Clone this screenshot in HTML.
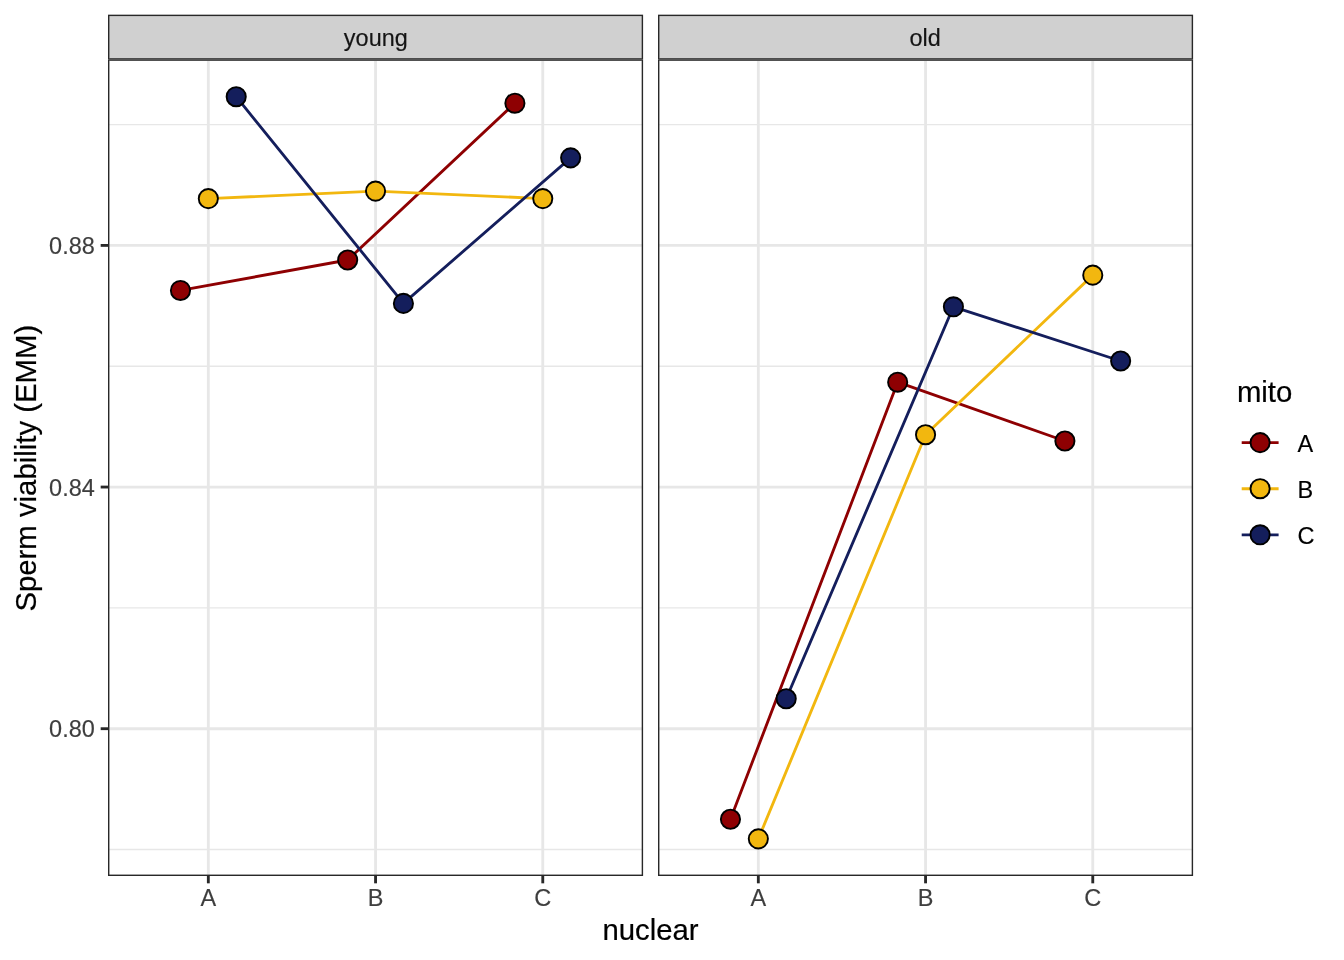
<!DOCTYPE html>
<html><head><meta charset="utf-8"><title>Sperm viability</title>
<style>
html,body{margin:0;padding:0;background:#fff;}
body{width:1344px;height:960px;overflow:hidden;}
svg{display:block;font-family:"Liberation Sans",sans-serif;}
.s{font-size:23.47px;stroke-width:0.15px;}
.t{font-size:29.33px;fill:#000;stroke:#000;stroke-width:0.2px;}
</style></head><body>
<svg width="1344" height="960" viewBox="0 0 1344 960">
<rect width="1344" height="960" fill="#fff"/>
<g>
<line x1="108.0" x2="643.1" y1="124.6" y2="124.6" stroke="#E7E7E7" stroke-width="1.42"/>
<line x1="108.0" x2="643.1" y1="366.2" y2="366.2" stroke="#E7E7E7" stroke-width="1.42"/>
<line x1="108.0" x2="643.1" y1="607.9" y2="607.9" stroke="#E7E7E7" stroke-width="1.42"/>
<line x1="108.0" x2="643.1" y1="849.5" y2="849.5" stroke="#E7E7E7" stroke-width="1.42"/>
<line x1="108.0" x2="643.1" y1="245.4" y2="245.4" stroke="#E7E7E7" stroke-width="2.85"/>
<line x1="108.0" x2="643.1" y1="487.05" y2="487.05" stroke="#E7E7E7" stroke-width="2.85"/>
<line x1="108.0" x2="643.1" y1="728.7" y2="728.7" stroke="#E7E7E7" stroke-width="2.85"/>
<line x1="208.33" x2="208.33" y1="59.5" y2="876.0" stroke="#E7E7E7" stroke-width="2.85"/>
<line x1="375.55" x2="375.55" y1="59.5" y2="876.0" stroke="#E7E7E7" stroke-width="2.85"/>
<line x1="542.77" x2="542.77" y1="59.5" y2="876.0" stroke="#E7E7E7" stroke-width="2.85"/>
<polyline points="180.46,290.45 347.68,260.00 514.90,103.20" fill="none" stroke="#8E0002" stroke-width="2.85" stroke-linejoin="round" stroke-linecap="butt"/>
<polyline points="208.33,198.60 375.55,191.10 542.77,198.60" fill="none" stroke="#F2B70F" stroke-width="2.85" stroke-linejoin="round" stroke-linecap="butt"/>
<polyline points="236.20,96.70 403.42,303.40 570.64,157.87" fill="none" stroke="#141E5C" stroke-width="2.85" stroke-linejoin="round" stroke-linecap="butt"/>
<circle cx="180.46" cy="290.45" r="9.6" fill="#8E0002" stroke="#000" stroke-width="1.9"/>
<circle cx="347.68" cy="260.00" r="9.6" fill="#8E0002" stroke="#000" stroke-width="1.9"/>
<circle cx="514.90" cy="103.20" r="9.6" fill="#8E0002" stroke="#000" stroke-width="1.9"/>
<circle cx="208.33" cy="198.60" r="9.6" fill="#F2B70F" stroke="#000" stroke-width="1.9"/>
<circle cx="375.55" cy="191.10" r="9.6" fill="#F2B70F" stroke="#000" stroke-width="1.9"/>
<circle cx="542.77" cy="198.60" r="9.6" fill="#F2B70F" stroke="#000" stroke-width="1.9"/>
<circle cx="236.20" cy="96.70" r="9.6" fill="#141E5C" stroke="#000" stroke-width="1.9"/>
<circle cx="403.42" cy="303.40" r="9.6" fill="#141E5C" stroke="#000" stroke-width="1.9"/>
<circle cx="570.64" cy="157.87" r="9.6" fill="#141E5C" stroke="#000" stroke-width="1.9"/>
<rect x="108.71" y="60.21" width="533.68" height="815.08" fill="none" stroke="#282828" stroke-width="1.42"/>
<rect x="108.71" y="15.38" width="533.68" height="43.41" fill="#D0D0D0" stroke="#282828" stroke-width="1.42"/>
<rect x="109.00" y="58.25" width="533.10" height="2.65" fill="#555555"/>
<text x="375.85" y="45.7" text-anchor="middle" class="s" fill="#141414" stroke="#141414">young</text>
<line x1="208.33" x2="208.33" y1="876.0" y2="883.33" stroke="#282828" stroke-width="2.85"/>
<text x="208.33" y="905.8" text-anchor="middle" class="s" fill="#3E3E3E" stroke="#3E3E3E">A</text>
<line x1="375.55" x2="375.55" y1="876.0" y2="883.33" stroke="#282828" stroke-width="2.85"/>
<text x="375.55" y="905.8" text-anchor="middle" class="s" fill="#3E3E3E" stroke="#3E3E3E">B</text>
<line x1="542.77" x2="542.77" y1="876.0" y2="883.33" stroke="#282828" stroke-width="2.85"/>
<text x="542.77" y="905.8" text-anchor="middle" class="s" fill="#3E3E3E" stroke="#3E3E3E">C</text>
</g>
<g>
<line x1="658.0" x2="1193.1" y1="124.6" y2="124.6" stroke="#E7E7E7" stroke-width="1.42"/>
<line x1="658.0" x2="1193.1" y1="366.2" y2="366.2" stroke="#E7E7E7" stroke-width="1.42"/>
<line x1="658.0" x2="1193.1" y1="607.9" y2="607.9" stroke="#E7E7E7" stroke-width="1.42"/>
<line x1="658.0" x2="1193.1" y1="849.5" y2="849.5" stroke="#E7E7E7" stroke-width="1.42"/>
<line x1="658.0" x2="1193.1" y1="245.4" y2="245.4" stroke="#E7E7E7" stroke-width="2.85"/>
<line x1="658.0" x2="1193.1" y1="487.05" y2="487.05" stroke="#E7E7E7" stroke-width="2.85"/>
<line x1="658.0" x2="1193.1" y1="728.7" y2="728.7" stroke="#E7E7E7" stroke-width="2.85"/>
<line x1="758.33" x2="758.33" y1="59.5" y2="876.0" stroke="#E7E7E7" stroke-width="2.85"/>
<line x1="925.55" x2="925.55" y1="59.5" y2="876.0" stroke="#E7E7E7" stroke-width="2.85"/>
<line x1="1092.77" x2="1092.77" y1="59.5" y2="876.0" stroke="#E7E7E7" stroke-width="2.85"/>
<polyline points="730.46,819.25 897.68,382.20 1064.90,441.00" fill="none" stroke="#8E0002" stroke-width="2.85" stroke-linejoin="round" stroke-linecap="butt"/>
<polyline points="758.33,838.85 925.55,434.70 1092.77,275.15" fill="none" stroke="#F2B70F" stroke-width="2.85" stroke-linejoin="round" stroke-linecap="butt"/>
<polyline points="786.20,698.75 953.42,306.80 1120.64,361.00" fill="none" stroke="#141E5C" stroke-width="2.85" stroke-linejoin="round" stroke-linecap="butt"/>
<circle cx="730.46" cy="819.25" r="9.6" fill="#8E0002" stroke="#000" stroke-width="1.9"/>
<circle cx="897.68" cy="382.20" r="9.6" fill="#8E0002" stroke="#000" stroke-width="1.9"/>
<circle cx="1064.90" cy="441.00" r="9.6" fill="#8E0002" stroke="#000" stroke-width="1.9"/>
<circle cx="758.33" cy="838.85" r="9.6" fill="#F2B70F" stroke="#000" stroke-width="1.9"/>
<circle cx="925.55" cy="434.70" r="9.6" fill="#F2B70F" stroke="#000" stroke-width="1.9"/>
<circle cx="1092.77" cy="275.15" r="9.6" fill="#F2B70F" stroke="#000" stroke-width="1.9"/>
<circle cx="786.20" cy="698.75" r="9.6" fill="#141E5C" stroke="#000" stroke-width="1.9"/>
<circle cx="953.42" cy="306.80" r="9.6" fill="#141E5C" stroke="#000" stroke-width="1.9"/>
<circle cx="1120.64" cy="361.00" r="9.6" fill="#141E5C" stroke="#000" stroke-width="1.9"/>
<rect x="658.71" y="60.21" width="533.68" height="815.08" fill="none" stroke="#282828" stroke-width="1.42"/>
<rect x="658.71" y="15.38" width="533.68" height="43.41" fill="#D0D0D0" stroke="#282828" stroke-width="1.42"/>
<rect x="659.00" y="58.25" width="533.10" height="2.65" fill="#555555"/>
<text x="925.05" y="45.7" text-anchor="middle" class="s" fill="#141414" stroke="#141414">old</text>
<line x1="758.33" x2="758.33" y1="876.0" y2="883.33" stroke="#282828" stroke-width="2.85"/>
<text x="758.33" y="905.8" text-anchor="middle" class="s" fill="#3E3E3E" stroke="#3E3E3E">A</text>
<line x1="925.55" x2="925.55" y1="876.0" y2="883.33" stroke="#282828" stroke-width="2.85"/>
<text x="925.55" y="905.8" text-anchor="middle" class="s" fill="#3E3E3E" stroke="#3E3E3E">B</text>
<line x1="1092.77" x2="1092.77" y1="876.0" y2="883.33" stroke="#282828" stroke-width="2.85"/>
<text x="1092.77" y="905.8" text-anchor="middle" class="s" fill="#3E3E3E" stroke="#3E3E3E">C</text>
</g>
<line x1="100.67" x2="108.0" y1="245.4" y2="245.4" stroke="#282828" stroke-width="2.85"/>
<text x="94.8" y="253.90" text-anchor="end" class="s" fill="#3E3E3E" stroke="#3E3E3E">0.88</text>
<line x1="100.67" x2="108.0" y1="487.05" y2="487.05" stroke="#282828" stroke-width="2.85"/>
<text x="94.8" y="495.55" text-anchor="end" class="s" fill="#3E3E3E" stroke="#3E3E3E">0.84</text>
<line x1="100.67" x2="108.0" y1="728.7" y2="728.7" stroke="#282828" stroke-width="2.85"/>
<text x="94.8" y="737.20" text-anchor="end" class="s" fill="#3E3E3E" stroke="#3E3E3E">0.80</text>
<text x="650.5" y="939.8" text-anchor="middle" class="t">nuclear</text>
<text transform="translate(35.5,468.2) rotate(-90)" text-anchor="middle" class="t">Sperm viability (EMM)</text>
<text x="1236.9" y="401.7" class="t">mito</text>
<line x1="1241.7" x2="1278.6" y1="442.6" y2="442.6" stroke="#8E0002" stroke-width="2.85"/>
<circle cx="1260.1" cy="442.6" r="9.6" fill="#8E0002" stroke="#000" stroke-width="1.9"/>
<text x="1297.5" y="451.90" class="s" fill="#000" stroke="#000">A</text>
<line x1="1241.7" x2="1278.6" y1="488.7" y2="488.7" stroke="#F2B70F" stroke-width="2.85"/>
<circle cx="1260.1" cy="488.7" r="9.6" fill="#F2B70F" stroke="#000" stroke-width="1.9"/>
<text x="1297.5" y="498.00" class="s" fill="#000" stroke="#000">B</text>
<line x1="1241.7" x2="1278.6" y1="534.8" y2="534.8" stroke="#141E5C" stroke-width="2.85"/>
<circle cx="1260.1" cy="534.8" r="9.6" fill="#141E5C" stroke="#000" stroke-width="1.9"/>
<text x="1297.5" y="544.10" class="s" fill="#000" stroke="#000">C</text>
</svg>
</body></html>
